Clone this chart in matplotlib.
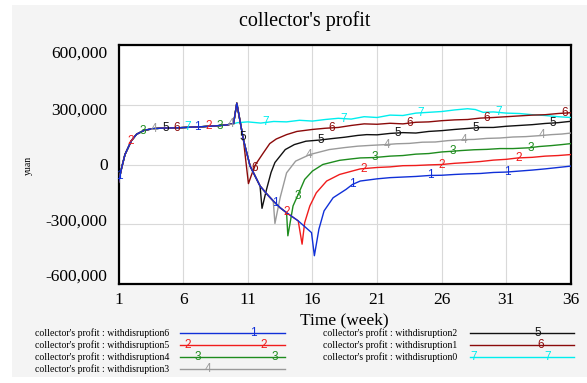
import numpy as np
import matplotlib
matplotlib.use('Agg')
import matplotlib.pyplot as plt
from matplotlib.lines import Line2D
from matplotlib.patches import Rectangle
from matplotlib.transforms import offset_copy

plt.rcParams['font.family'] = ['Liberation Serif', 'DejaVu Serif']

# shared start of every run (weeks 1-10)
common_t = [1.0, 1.25, 1.5, 2.0, 2.4, 3.0, 3.7, 4.5, 5.5, 6.5, 7.5, 8.5, 9.3, 9.9]
common_v = [-90000, -15000, 50000, 120000, 152000, 172000, 180000, 183000, 184000,
            187000, 190000, 194000, 198000, 205000]

# path followed by the disrupted runs while the disruption lasts
descent_t = [10.15, 10.66, 11.18, 11.95, 12.5, 12.97, 13.5, 14.0, 14.9, 15.93]
descent_v = [308000, 125000, -8000, -108000, -150000, -183000, -217000, -242000,
             -283000, -342000]

# no disruption
cyan_t = [10.2, 11, 12, 13, 14, 15, 16, 17, 18, 19, 20, 21, 22, 23, 24, 25, 26, 27,
          28, 28.6, 29.2, 30, 31, 32, 33, 34, 35, 36]
cyan_v = [210000, 214000, 208000, 216000, 214000, 222000, 218000, 226000, 232000,
          228000, 240000, 236000, 248000, 246000, 258000, 262000, 266000, 274000,
          280000, 276000, 262000, 264000, 258000, 256000, 250000, 246000, 240000, 236000]

# dip and recovery of each disrupted run
brown_t = [11.05, 11.3, 11.6, 12.2, 12.7, 13.2, 14.0, 14.8, 16, 17, 18, 19, 20, 21,
           22, 23, 24, 25, 26, 27, 28, 29, 30, 31, 32, 33, 34, 35, 36]
brown_v = [-96000, -50000, 0, 58000, 105000, 128000, 150000, 166000, 176000, 182000,
           186000, 196000, 204000, 202000, 207000, 204000, 212000, 214000, 220000,
           224000, 226000, 233000, 236000, 240000, 244000, 248000, 250000, 256000, 260000]

black_t = [12.1, 12.45, 12.8, 13.1, 13.9, 14.6, 15.5, 16.6, 17.5, 18.5, 19.5, 20.2,
           21, 22, 23, 24, 25, 26, 27, 28, 29, 30, 31, 32, 33, 34, 35, 36]
black_v = [-220000, -125000, -40000, 10000, 75000, 100000, 117000, 123000, 130000,
           137000, 146000, 150000, 149000, 156000, 160000, 158000, 166000, 170000,
           176000, 181000, 186000, 186000, 192000, 196000, 200000, 206000, 210000, 217000]

gray_t = [13.1, 13.5, 14.0, 14.7, 15.3, 15.8, 17.3, 18.5, 19.5, 20.5, 21.7, 22.5,
          23.5, 24.5, 25.5, 26.5, 27.8, 28.5, 29.5, 30.5, 31.5, 32.5, 33.6, 34.5,
          35.3, 36.0]
gray_v = [-296000, -167000, -42000, 17000, 35000, 50000, 75000, 85000, 92000, 96000,
          100000, 104000, 106000, 112000, 113000, 120000, 125000, 126000, 131000,
          133000, 138000, 140000, 145000, 150000, 153000, 158000]

green_t = [14.1, 14.5, 14.9, 15.4, 16.0, 16.8, 18.1, 19.0, 19.7, 20.8, 22, 23, 24,
           25, 26, 26.7, 27.5, 28.5, 29.5, 30.5, 31.5, 32.8, 33.5, 34.5, 35.3, 36.0]
green_v = [-358000, -208000, -150000, -75000, -33000, 0, 21000, 28000, 33000, 35000,
           42000, 45000, 52000, 55000, 63000, 66000, 70000, 74000, 76000, 80000,
           80000, 84000, 90000, 95000, 100000, 105000]

red_t = [15.2, 15.4, 15.8, 16.3, 17.1, 18.1, 19.7, 21, 22, 23, 24, 25, 26, 27, 28,
         29, 30, 31, 31.9, 33, 34, 35, 36]
red_v = [-400000, -292000, -208000, -142000, -83000, -50000, -22000, -15000, -12000,
         -6000, -5000, -2000, 0, 6000, 10000, 15000, 22000, 26000, 33000, 36000,
         42000, 45000, 50000]

blue_t = [16.15, 16.5, 16.9, 17.6, 18.6, 19.1, 19.7, 21, 22, 23, 24, 25.1, 26, 27,
          28, 29, 30, 31, 32, 33, 34, 35, 36]
blue_v = [-458000, -325000, -233000, -167000, -125000, -100000, -83000, -72000,
          -66000, -63000, -60000, -55000, -54000, -50000, -47000, -45000, -40000,
          -38000, -33000, -28000, -22000, -15000, -8000]


def disrupted(rec_t, rec_v):
    keep = [i for i, t in enumerate(descent_t) if t < rec_t[0]]
    t = common_t + [descent_t[i] for i in keep] + rec_t
    v = common_v + [descent_v[i] for i in keep] + rec_v
    return np.array(t), np.array(v)


# (name, t, v, colour, marker digit, series index)
series = [
    ('withdisruption0', np.array(common_t + cyan_t), np.array(common_v + cyan_v), '#00eeee', '7', 7),
    ('withdisruption1', *disrupted(brown_t, brown_v), '#8b0a0a', '6', 6),
    ('withdisruption2', *disrupted(black_t, black_v), '#111111', '5', 5),
    ('withdisruption3', *disrupted(gray_t, gray_v), '#9a9a9a', '4', 4),
    ('withdisruption4', *disrupted(green_t, green_v), '#1e8c1e', '3', 3),
    ('withdisruption5', *disrupted(red_t, red_v), '#f01c1c', '2', 2),
    ('withdisruption6', *disrupted(blue_t, blue_v), '#1030d8', '1', 1),
]

W, H = 587, 383
fig = plt.figure(figsize=(W / 100, H / 100), dpi=100)
fig.add_artist(Rectangle((12 / W, 1 - 377 / H), (W - 12) / W, 372 / H,
                         transform=fig.transFigure, facecolor='#f4f4f4',
                         edgecolor='none', zorder=-5))

ax = fig.add_axes([118.5 / W, 1 - 284 / H, (571 - 118.5) / W, (284 - 45) / H])
ax.set_facecolor('white')

for name, t, v, color, digit, idx in series:
    ax.plot(t, v, color=color, lw=1.0, zorder=3)
    marks = np.arange(1.1 + 0.88 * (idx - 1), 36.01, 6)
    for m in marks:
        ax.text(m, np.interp(m, t, v), digit, color=color, fontsize=8.5,
                family='Liberation Sans', ha='center', va='center', zorder=4)

ax.set_xlim(1, 36)
ax.set_ylim(-600000, 600000)
ax.set_xticks(np.arange(1, 37, 5))
ax.set_yticks([-600000, -300000, 0, 300000, 600000])
ax.set_yticklabels([])
ax.tick_params(length=0, labelsize=12.5, pad=6)
ax.grid(color='#d9d9d9', lw=0.8)
for sp in ax.spines.values():
    sp.set_linewidth(1.6)
    sp.set_color('black')

# y labels sit a bit closer to the centre than their gridlines
ytick_vals = [600000, 300000, 0, -300000, -600000]
ytick_shift = [-9, -6, -2, 3, 7]
for val, sh in zip(ytick_vals, ytick_shift):
    tr = offset_copy(ax.get_yaxis_transform(), fig=fig, x=-11, y=sh, units='dots')
    ax.text(0, val, f'{val:,}', transform=tr, ha='right', va='center', fontsize=12.5)

ax.set_xlabel('Time (week)', fontsize=12.5, labelpad=3)
fig.text(28 / W, 1 - 165 / H, 'yuan', rotation=90, fontsize=7, ha='center', va='center')
fig.text(305 / W, 1 - 21 / H, "collector's profit", ha='center', va='center', fontsize=14.5)

# legend, drawn by hand in two columns
legend_left = [('withdisruption6', '#1030d8', '1', [0.70]),
               ('withdisruption5', '#f01c1c', '2', [0.07, 0.80]),
               ('withdisruption4', '#1e8c1e', '3', [0.17, 0.90]),
               ('withdisruption3', '#9a9a9a', '4', [0.27])]
legend_right = [('withdisruption2', '#111111', '5', [0.65]),
                ('withdisruption1', '#8b0a0a', '6', [0.68]),
                ('withdisruption0', '#00eeee', '7', [0.04, 0.75])]
row_y = [333, 345, 357, 369]

for entries, tx, x0, x1 in [(legend_left, 35, 180, 285), (legend_right, 323, 470, 574)]:
    for (name, color, digit, fracs), y in zip(entries, row_y):
        fy = 1 - y / H
        fig.text(tx / W, fy, "collector's profit : " + name, fontsize=7, ha='left', va='center')
        fig.add_artist(Line2D([x0 / W, x1 / W], [fy, fy], color=color, lw=1.0,
                              transform=fig.transFigure))
        for f in fracs:
            fig.text((x0 + f * (x1 - x0)) / W, fy, digit, color=color, fontsize=8.5,
                     family='Liberation Sans', ha='center', va='center')

fig.savefig('out.png', dpi=100)
